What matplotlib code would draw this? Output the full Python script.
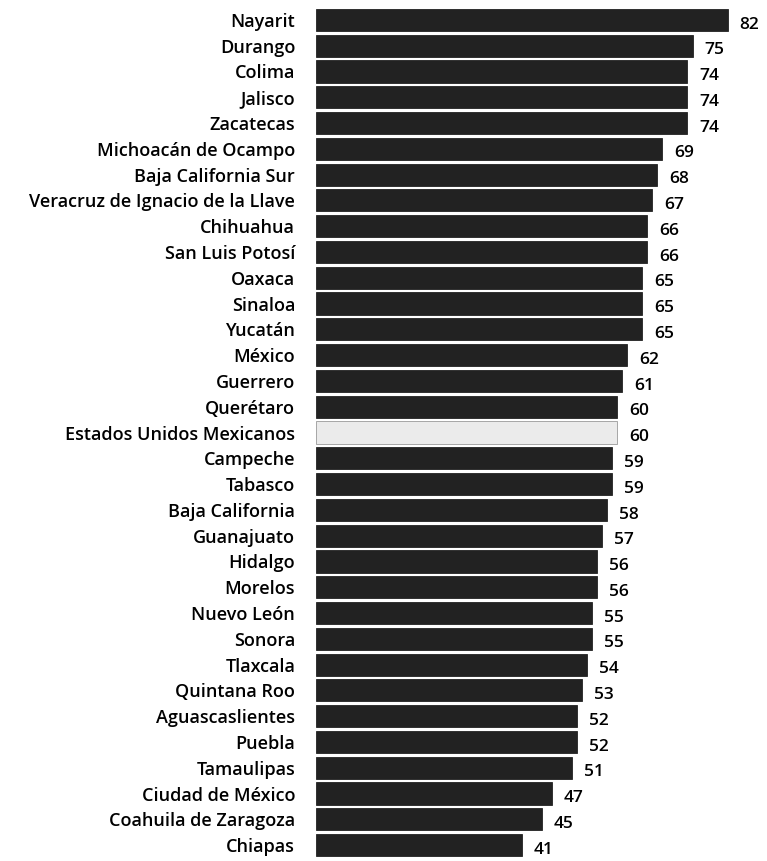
import numpy as np
import matplotlib.pyplot as plt

plt.rcParams['font.family'] = ['Open Sans', 'DejaVu Sans']

# Entidades federativas (de arriba hacia abajo) y sus valores
estados = [
    'Nayarit', 'Durango', 'Colima', 'Jalisco', 'Zacatecas',
    'Michoacán de Ocampo', 'Baja California Sur', 'Veracruz de Ignacio de la Llave',
    'Chihuahua', 'San Luis Potosí', 'Oaxaca', 'Sinaloa', 'Yucatán', 'México',
    'Guerrero', 'Querétaro', 'Estados Unidos Mexicanos', 'Campeche', 'Tabasco',
    'Baja California', 'Guanajuato', 'Hidalgo', 'Morelos', 'Nuevo León', 'Sonora',
    'Tlaxcala', 'Quintana Roo', 'Aguascaslientes', 'Puebla', 'Tamaulipas',
    'Ciudad de México', 'Coahuila de Zaragoza', 'Chiapas',
]
valores = [82, 75, 74, 74, 74, 69, 68, 67, 66, 66, 65, 65, 65, 62, 61, 60, 60,
           59, 59, 58, 57, 56, 56, 55, 55, 54, 53, 52, 52, 51, 47, 45, 41]
nacional = 'Estados Unidos Mexicanos'

fig = plt.figure(figsize=(7.67, 8.61), dpi=100)
ax = fig.add_axes([316 / 767, 3 / 861, 451 / 767, 851 / 861])

y = np.arange(len(estados))
colores = ['#ebebeb' if e == nacional else '#222222' for e in estados]
bordes = ['#9a9a9a' if e == nacional else '#222222' for e in estados]
ax.barh(y, valores, height=0.86, color=colores, edgecolor=bordes, linewidth=0.6)

for yi, v in zip(y, valores):
    ax.text(v + 2.4, yi + 0.18, str(v), va='center', ha='left', fontsize=12.5,
            color='black', fontweight='semibold')

ax.set_yticks(y)
ax.set_yticklabels(estados, fontsize=13, fontweight='semibold')
ax.tick_params(axis='y', length=0, pad=15)
ax.set_xticks([])
ax.set_xlim(0, 451 / 5.02)
ax.set_ylim(len(estados) - 0.5, -0.5)
for s in ax.spines.values():
    s.set_visible(False)

fig.savefig('out.png', dpi=100)
